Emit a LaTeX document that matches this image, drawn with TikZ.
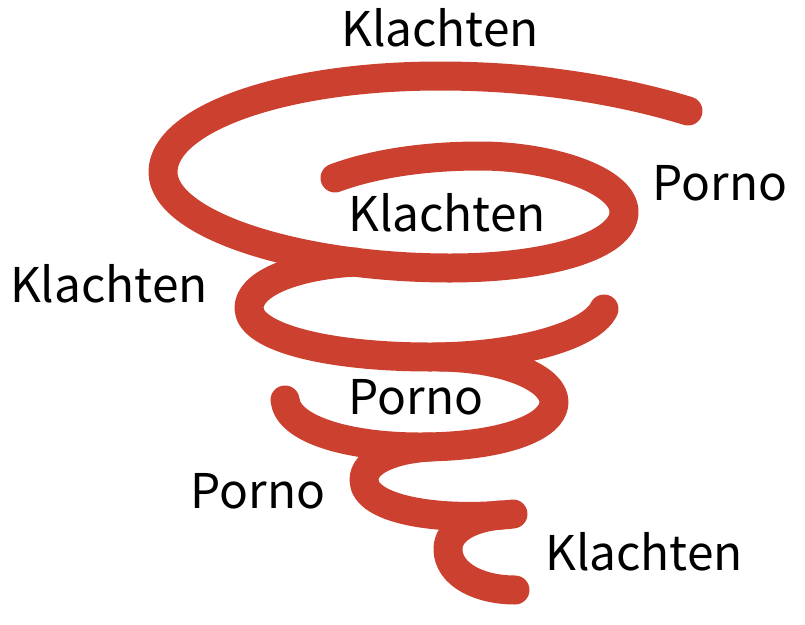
\documentclass[tikz,border=0pt]{standalone}
\usepackage{fontspec}
\setmainfont{Noto Sans CJK SC}
\definecolor{spiralred}{HTML}{CC4030}
\tikzset{
  coil/.style={draw=spiralred,line width=29bp*0.75,line cap=round,line join=round},
  word/.style={font=\fontsize{36}{36}\selectfont,text=black,inner sep=0pt}
}
\begin{document}
\begin{tikzpicture}[x=0.75bp,y=-0.75bp]
\useasboundingbox (0,0) rectangle (805,625);
\draw[coil] (688,111) .. controls (600,84) and (510,76) .. (440,76)
  .. controls (280,76) and (163,120) .. (163,172)
  .. controls (163,225) and (300,268) .. (450,268)
  .. controls (550,268) and (624,245) .. (624,212)
  .. controls (624,180) and (550,156) .. (480,156)
  .. controls (420,156) and (370,165) .. (335,178);
\draw[coil] (604,309) .. controls (590,338) and (510,357) .. (430,357)
  .. controls (330,357) and (249,338) .. (249,308)
  .. controls (249,285) and (290,266) .. (355,262);
\draw[coil] (285,400) .. controls (288,430) and (350,447) .. (420,447)
  .. controls (500,447) and (554,428) .. (554,402)
  .. controls (554,380) and (510,358) .. (440,357);
\draw[coil] (513,514) .. controls (440,522) and (364,510) .. (364,480)
  .. controls (364,460) and (395,449) .. (430,447);
\draw[coil] (515,590) .. controls (480,590) and (448,575) .. (448,549)
  .. controls (448,530) and (470,518) .. (500,515);
\node[word] (top) at (440,28) {Klachten};
\node[word] (inner) at (447,213) {Klachten};
\node[word] (left) at (109,284) {Klachten};
\node[word] (low) at (644,552) {Klachten};
\node[word] (right) at (720,183) {Porno};
\node[word] (mid) at (416,397) {Porno};
\node[word] (side) at (258,491) {Porno};
\end{tikzpicture}
\end{document}
